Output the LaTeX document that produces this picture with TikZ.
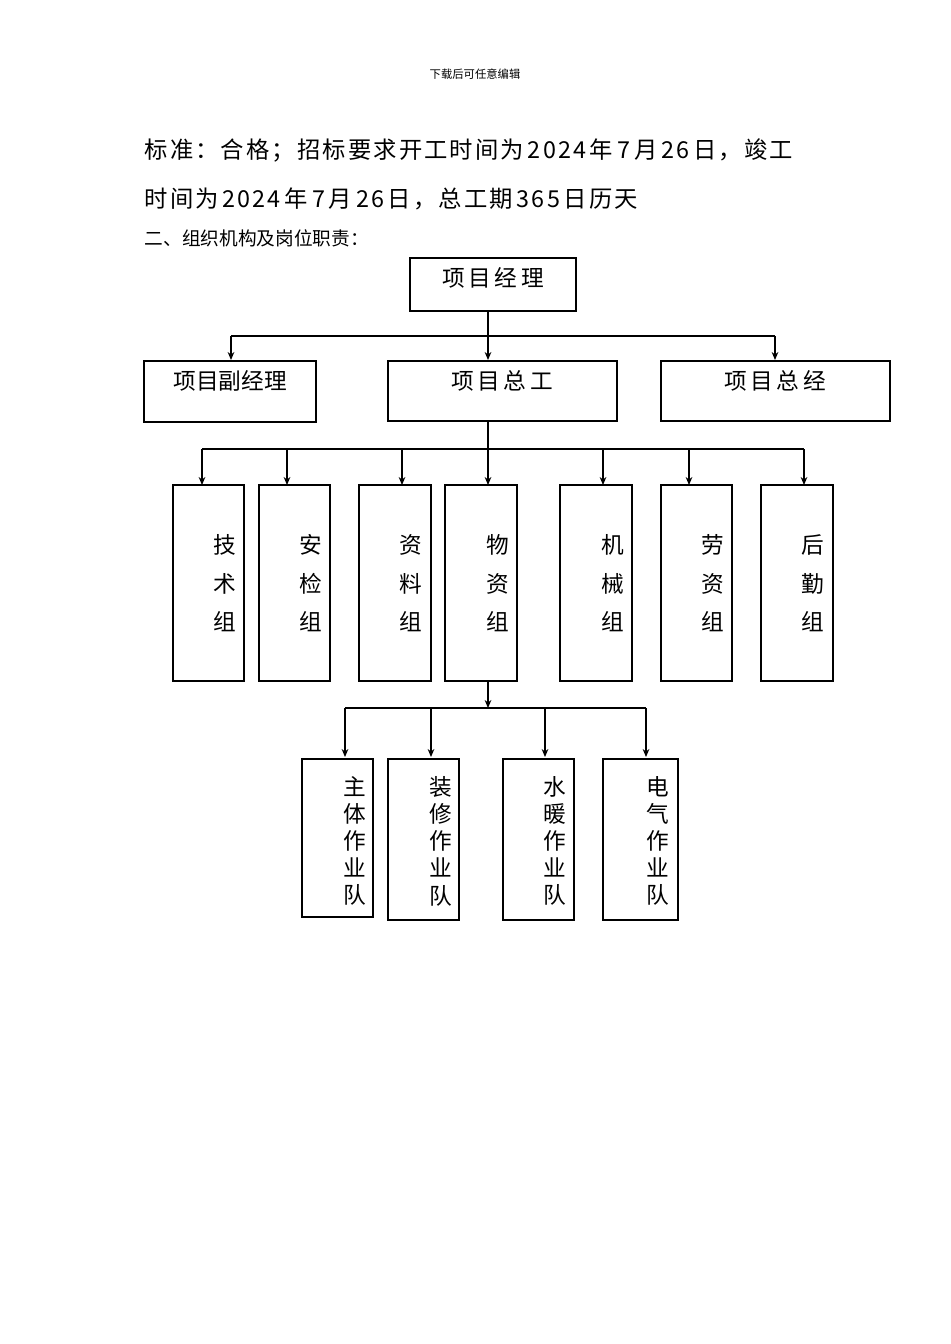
\documentclass[tikz,border=0pt]{standalone}
\usepackage{fontspec}
\usetikzlibrary{arrows.meta}
\setmainfont{Liberation Serif}
\newfontfamily\cjk{Noto Sans CJK SC}
\newfontfamily\cjkw[LetterSpace=9]{Noto Sans CJK SC}
\begin{document}
\begin{tikzpicture}[x=0.75pt,y=-0.75pt,
  bx/.style={draw,line width=0.9pt,inner sep=0pt},
  ln/.style={line width=0.8pt},
  ar/.style={line width=0.8pt,-{Stealth[length=6pt,width=5pt]}},
  tx/.style={font=\cjk\fontsize{17}{20}\selectfont,align=center}]
\useasboundingbox (0,0) rectangle (950,1344);
\node (hd) at (475,74) {\cjk\fontsize{8.5}{10}\selectfont 下载后可任意编辑};
\node[anchor=west] (l1) at (140,150) {\cjkw\fontsize{17.5}{20}\selectfont 标准：合格；招标要求开工时间为\,2024\,年\,7\,月\,26\,日，竣工};
\node[anchor=west] (l2) at (140,199) {\cjkw\fontsize{17.5}{20}\selectfont 时间为\,2024\,年\,7\,月\,26\,日，总工期\,365\,日历天};
\node[anchor=west] (l3) at (140,238) {\cjk\fontsize{14}{16}\selectfont 二、组织机构及岗位职责：};
% top
\draw[bx] (410,258) rectangle (576,311);
\node[tx] (pm) at (493,278) {项\,目\,经\,理};
\draw[ln] (488,311) -- (488,336);
\draw[ln] (231,336) -- (775,336);
\foreach \x in {231,488,775} \draw[ar] (\x,336) -- (\x,360);
\draw[bx] (144,361) rectangle (316,422); \node[tx] (a1) at (230,381) {项目副经理};
\draw[bx] (388,361) rectangle (617,421); \node[tx] (a2) at (502,381) {项\,目\,总\,工};
\draw[bx] (661,361) rectangle (890,421); \node[tx] (a3) at (775,381) {项\,目\,总\,经};
\draw[ln] (488,421) -- (488,449);
\draw[ln] (202,449) -- (804,449);
\foreach \x in {202,287,402,488,603,689,804} \draw[ar] (\x,449) -- (\x,485);
\foreach \a/\b/\t/\c/\d/\e in {173/244/225/技/术/组, 259/330/311/安/检/组, 359/431/411/资/料/组, 445/517/498/物/资/组, 560/632/613/机/械/组, 661/732/713/劳/资/组, 761/833/813/后/勤/组}{
  \draw[bx] (\a,485) rectangle (\b,681);
  \node[tx] at (\t,545) {\c}; \node[tx] at (\t,584) {\d}; \node[tx] at (\t,622) {\e};
}
\draw[ar] (488,681) -- (488,708);
\draw[ln] (345,708) -- (646,708);
\foreach \x in {345,431,545,646} \draw[ar] (\x,708) -- (\x,757);
\foreach \a/\b/\h/\t/\c/\d in {302/373/917/355/主/体, 388/459/920/441/装/修, 503/574/920/555/水/暖, 603/678/920/658/电/气}{
  \draw[bx] (\a,759) rectangle (\b,\h);
  \node[tx,font=\cjk\fontsize{17}{20.3}\selectfont,anchor=north] at (\t,772) {\c\\\d\\作\\业\\队};
}
\end{tikzpicture}
\end{document}
